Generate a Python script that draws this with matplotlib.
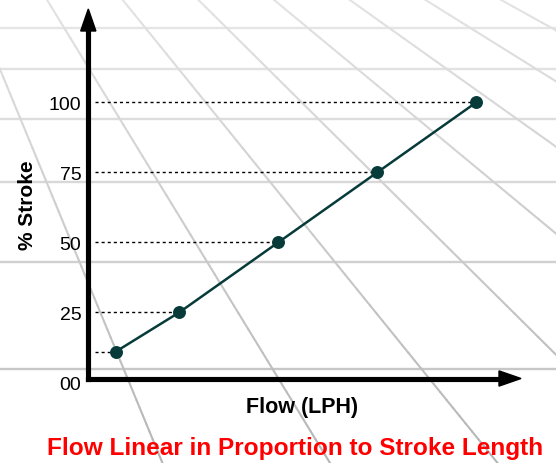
import numpy as np
import matplotlib
matplotlib.use("Agg")
import matplotlib.pyplot as plt
from matplotlib.collections import LineCollection
from matplotlib.patches import Polygon

# ---- data ----
flow = [7, 23, 48, 73, 98]
stroke = [11, 25, 50, 75, 100]
ytick_vals = [0, 25, 50, 75, 100]
ytick_labels = ["00", "25", "50", "75", "100"]
xlabel = "Flow (LPH)"
ylabel = "% Stroke"
title = "Flow Linear in Proportion to Stroke Length"

W, H = 556, 464
DPI = 100
plt.rcParams['font.family'] = ['Liberation Sans', 'DejaVu Sans']
fig = plt.figure(figsize=(W / DPI, H / DPI), dpi=DPI)

# ---- decorative perspective floor grid (pixel coordinates) ----
bg = fig.add_axes([0, 0, 1, 1], zorder=0)
bg.set_xlim(0, W)
bg.set_ylim(H, 0)
bg.axis('off')

hor_y = -380.5
vpx = -186.0
# horizontal floor lines
for k in range(6):
    y = hor_y + 4504.5 / (11 - k)
    g = 0.91 - 0.13 * (y / 370.0)
    bg.plot([0, W], [y, y], color=(g, g, g), lw=1.7, solid_capstyle='butt')
# radial floor lines with fade
segs, cols = [], []
ys = np.linspace(0, H, 60)
for j in range(-1, 9):
    x0 = -29 + 75.5 * j
    xs = vpx + (x0 - vpx) * (ys - hor_y) / (0 - hor_y)
    for i in range(len(ys) - 1):
        segs.append([(xs[i], ys[i]), (xs[i + 1], ys[i + 1])])
        ym = 0.5 * (ys[i] + ys[i + 1])
        g = 0.89 - 0.18 * (ym / H)
        cols.append((g, g, g))
bg.add_collection(LineCollection(segs, colors=cols, linewidths=1.5, capstyle='round'))

# ---- data axes ----
px_x0, px_per_x = 88.3, 3.96
px_y0, px_per_y = 383.3, 2.8
xmax, ymax = 110, 134
left = px_x0 / W
bottom = (H - px_y0) / H
width = px_per_x * xmax / W
height = px_per_y * ymax / H
ax = fig.add_axes([left, bottom, width, height], zorder=2)
ax.patch.set_alpha(0)
ax.set_xlim(0, xmax)
ax.set_ylim(0, ymax)
for s in ax.spines.values():
    s.set_visible(False)
ax.set_xticks([])
ax.set_yticks(ytick_vals)
ax.set_yticklabels(ytick_labels)
ax.tick_params(axis='y', length=0, pad=5, labelsize=14)

# dotted guide lines
ax.hlines(stroke, 1.6, flow, colors='black', linestyles=(0, (2.2, 2.2)), lw=1.0, zorder=3)
# data line
ax.plot(flow, stroke, color='#063b3a', lw=1.8, marker='o', ms=8.3, zorder=4, clip_on=False)

# axis arrows (axes-fraction coordinates)
axw, axh = W * width, H * height
cy = (px_y0 - 379.5) / axh          # x-axis line height
tipy = (px_y0 - 10) / axh
tipx = (521 - px_x0) / axw
hl, hw = 22.0, 7.6
ax.plot([0, 0], [cy, tipy - hl / axh], color='black', lw=3.7, transform=ax.transAxes,
        clip_on=False, solid_capstyle='projecting', zorder=5)
ax.plot([0, tipx - hl / axw], [cy, cy], color='black', lw=3.7, transform=ax.transAxes,
        clip_on=False, solid_capstyle='projecting', zorder=5)
ax.add_patch(Polygon([(0, tipy), (-hw / axw, tipy - hl / axh), (hw / axw, tipy - hl / axh)],
                     closed=True, transform=ax.transAxes, color='black', clip_on=False, zorder=5))
ax.add_patch(Polygon([(tipx, cy), (tipx - hl / axw, cy - hw / axh), (tipx - hl / axw, cy + hw / axh)],
                     closed=True, transform=ax.transAxes, color='black', clip_on=False, zorder=5))

# labels
fig.text(302.5 / W, 1 - 407 / H, xlabel, ha='center', va='center', fontsize=15.5, fontweight='bold')
fig.text(27.5 / W, 1 - 205 / H, ylabel, ha='center', va='center', rotation=90,
         fontsize=15, fontweight='bold')
fig.text(295.5 / W, 1 - 449 / H, title, ha='center', va='center', fontsize=17.6,
         fontweight='bold', color='#ff0000')

fig.savefig('out.png', dpi=DPI)
